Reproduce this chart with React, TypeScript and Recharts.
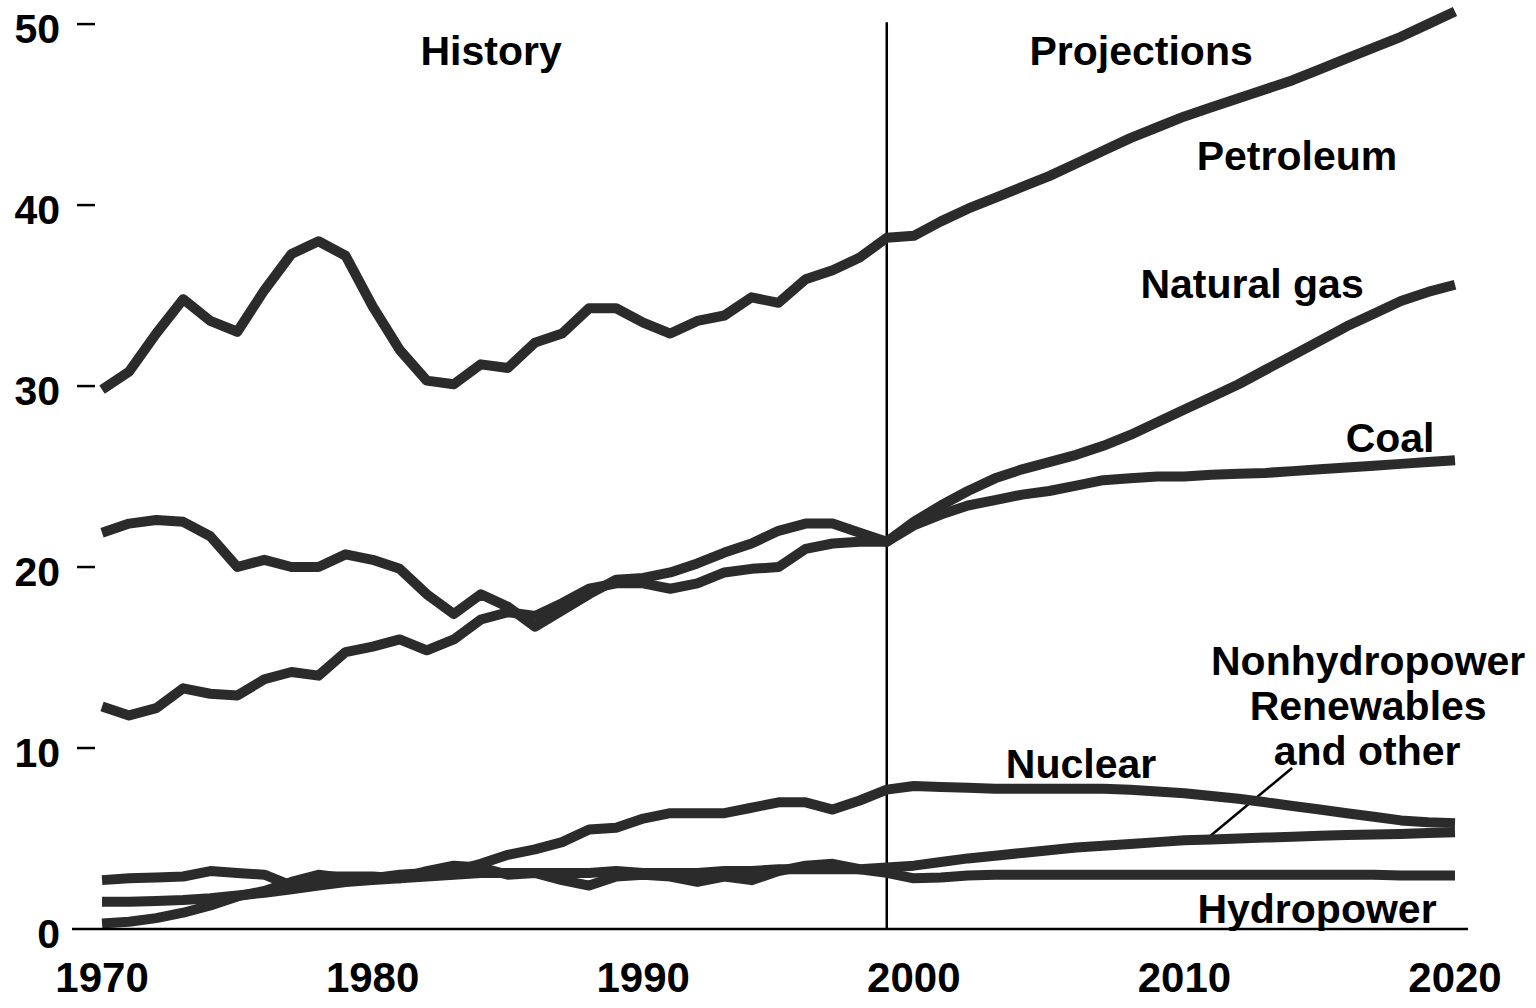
import React from "react";
import { LineChart, Line, XAxis, YAxis, ReferenceLine, ReferenceDot } from "recharts";

const years = [
  1970, 1971, 1972, 1973, 1974, 1975, 1976, 1977, 1978, 1979,
  1980, 1981, 1982, 1983, 1984, 1985, 1986, 1987, 1988, 1989,
  1990, 1991, 1992, 1993, 1994, 1995, 1996, 1997, 1998, 1999,
  2000, 2001, 2002, 2003, 2004, 2005, 2006, 2007, 2008, 2009,
  2010, 2011, 2012, 2013, 2014, 2015, 2016, 2017, 2018, 2019, 2020,
];

const petroleum = [
  29.8, 30.8, 32.9, 34.8, 33.6, 33.0, 35.3, 37.3, 38.0, 37.2,
  34.4, 32.0, 30.3, 30.1, 31.2, 31.0, 32.4, 32.9, 34.3, 34.3,
  33.5, 32.9, 33.6, 33.9, 34.9, 34.6, 35.9, 36.4, 37.1, 38.2,
  38.3, 39.1, 39.8, 40.4, 41.0, 41.6, 42.3, 43.0, 43.7, 44.3,
  44.9, 45.4, 45.9, 46.4, 46.9, 47.5, 48.1, 48.7, 49.3, 50.0, 50.7,
];

const naturalGas = [
  21.9, 22.4, 22.6, 22.5, 21.7, 20.0, 20.4, 20.0, 20.0, 20.7,
  20.4, 19.9, 18.5, 17.4, 18.5, 17.8, 16.7, 17.6, 18.5, 19.3,
  19.4, 19.7, 20.2, 20.8, 21.3, 22.0, 22.4, 22.4, 21.9, 21.4,
  22.5, 23.4, 24.2, 24.9, 25.4, 25.8, 26.2, 26.7, 27.3, 28.0,
  28.7, 29.4, 30.1, 30.9, 31.7, 32.5, 33.3, 34.0, 34.7, 35.2, 35.6,
];

const coal = [
  12.3, 11.8, 12.2, 13.3, 13.0, 12.9, 13.8, 14.2, 14.0, 15.3,
  15.6, 16.0, 15.4, 16.0, 17.1, 17.5, 17.3, 18.0, 18.8, 19.1,
  19.1, 18.8, 19.1, 19.7, 19.9, 20.0, 21.0, 21.3, 21.4, 21.4,
  22.3, 22.9, 23.4, 23.7, 24.0, 24.2, 24.5, 24.8, 24.9, 25.0,
  25.0, 25.1, 25.15, 25.2, 25.3, 25.4, 25.5, 25.6, 25.7, 25.8, 25.9,
];

const nuclear = [
  0.3, 0.4, 0.6, 0.9, 1.3, 1.8, 2.1, 2.6, 3.0, 2.8,
  2.8, 3.0, 3.1, 3.2, 3.6, 4.1, 4.4, 4.8, 5.5, 5.6,
  6.1, 6.4, 6.4, 6.4, 6.7, 7.0, 7.0, 6.6, 7.1, 7.7,
  7.9, 7.85, 7.8, 7.75, 7.75, 7.75, 7.75, 7.75, 7.7, 7.6,
  7.5, 7.35, 7.2, 7.0, 6.8, 6.6, 6.4, 6.2, 6.0, 5.9, 5.85,
];

const hydropower = [
  2.7, 2.8, 2.85, 2.9, 3.2, 3.1, 3.0, 2.4, 2.9, 2.9,
  2.9, 2.8, 3.2, 3.5, 3.4, 3.0, 3.1, 2.7, 2.4, 2.9,
  3.0, 2.9, 2.6, 2.9, 2.7, 3.2, 3.5, 3.6, 3.3, 3.1,
  2.8, 2.85, 2.95, 3.0, 3.0, 3.0, 3.0, 3.0, 3.0, 3.0,
  3.0, 3.0, 3.0, 3.0, 3.0, 3.0, 3.0, 3.0, 2.95, 2.95, 2.95,
];

const nonhydroRenewables = [
  1.5, 1.5, 1.55, 1.6, 1.7, 1.85, 2.0, 2.2, 2.4, 2.6,
  2.7, 2.8, 2.9, 3.0, 3.1, 3.1, 3.1, 3.1, 3.1, 3.2,
  3.1, 3.1, 3.1, 3.2, 3.2, 3.3, 3.3, 3.3, 3.3, 3.4,
  3.5, 3.7, 3.9, 4.05, 4.2, 4.35, 4.5, 4.6, 4.7, 4.8,
  4.9, 4.95, 5.0, 5.05, 5.1, 5.15, 5.2, 5.22, 5.25, 5.3, 5.35,
];

const xTicks = [1970, 1980, 1990, 2000, 2010, 2020];
const yTicks = [0, 10, 20, 30, 40, 50];

const historyEnd = 1999;

const rows = years.map((year, i) => ({
  year,
  petroleum: petroleum[i],
  naturalGas: naturalGas[i],
  coal: coal[i],
  nuclear: nuclear[i],
  hydropower: hydropower[i],
  nonhydro: nonhydroRenewables[i],
}));

const FONT = "'Liberation Sans', Arial, Helvetica, sans-serif";
const LINE_COLOR = "#2b2b2b";

type Note = { text: string; year: number; value: number };

const notes: Note[] = [
  { text: "History", year: 1984.38, value: 47.73 },
  { text: "Projections", year: 2008.4, value: 47.73 },
  { text: "Petroleum", year: 2014.16, value: 41.93 },
  { text: "Natural gas", year: 2012.5, value: 34.86 },
  { text: "Coal", year: 2017.6, value: 26.35 },
  { text: "Nonhydropower", year: 2016.79, value: 14.03 },
  { text: "Renewables", year: 2016.79, value: 11.55 },
  { text: "and other", year: 2016.75, value: 9.06 },
  { text: "Nuclear", year: 2006.18, value: 8.34 },
  { text: "Hydropower", year: 2014.9, value: 0.33 },
];

const YTick = (props: any) => {
  const { x, y, payload } = props;
  return (
    <g>
      <text
        x={x}
        y={y + 19}
        textAnchor="end"
        fontFamily={FONT}
        fontWeight={700}
        fontSize={41}
        fill="#000"
      >
        {payload.value}
      </text>
      {payload.value !== 0 && (
        <line x1={x + 17} x2={x + 35} y1={y} y2={y} stroke="#000" strokeWidth={2.5} />
      )}
    </g>
  );
};

const makeLabel = (txt: string) => (props: any) => {
  const vb = props.viewBox || {};
  const cx = (vb.x ?? 0) + (vb.width ?? 0) / 2;
  const cy = (vb.y ?? 0) + (vb.height ?? 0) / 2;
  return (
    <text
      x={cx}
      y={cy}
      textAnchor="middle"
      fontFamily={FONT}
      fontWeight={700}
      fontSize={41}
      fill="#000"
    >
      {txt}
    </text>
  );
};

const seriesKeys = ["hydropower", "nonhydro", "nuclear", "coal", "naturalGas", "petroleum"];

export default function App() {
  return (
    <div style={{ position: "absolute", left: 0, top: 0, background: "#fff" }}>
      <LineChart
        width={1536}
        height={1008}
        data={rows}
        margin={{ top: 6, right: 68, bottom: 0, left: 0 }}
      >
        <XAxis
          dataKey="year"
          type="number"
          domain={[1968.89, 2020.48]}
          ticks={xTicks}
          allowDataOverflow
          height={79}
          tickLine={false}
          tickSize={0}
          tickMargin={33}
          axisLine={{ stroke: "#000", strokeWidth: 2.5 }}
          tick={{ fontFamily: FONT, fontWeight: 700, fontSize: 42, fill: "#000" }}
        />
        <YAxis
          type="number"
          domain={[0, 51]}
          ticks={yTicks}
          allowDataOverflow
          width={72}
          axisLine={false}
          tickLine={false}
          tickSize={0}
          tickMargin={12}
          tick={<YTick />}
        />
        <ReferenceLine
          segment={[
            { x: historyEnd, y: 0 },
            { x: historyEnd, y: 50.1 },
          ]}
          stroke="#000"
          strokeWidth={2.5}
        />
        <ReferenceLine
          segment={[
            { x: 2010.91, y: 5.08 },
            { x: 2013.98, y: 8.9 },
          ]}
          stroke="#000"
          strokeWidth={2.5}
        />
        {seriesKeys.map((k) => (
          <Line
            key={k}
            dataKey={k}
            type="linear"
            stroke={LINE_COLOR}
            strokeWidth={10}
            strokeLinejoin="round"
            dot={false}
            activeDot={false}
            isAnimationActive={false}
          />
        ))}
        {notes.map((n) => (
          <ReferenceDot
            key={n.text}
            x={n.year}
            y={n.value}
            r={1}
            fill="none"
            stroke="none"
            label={makeLabel(n.text)}
          />
        ))}
      </LineChart>
    </div>
  );
}
